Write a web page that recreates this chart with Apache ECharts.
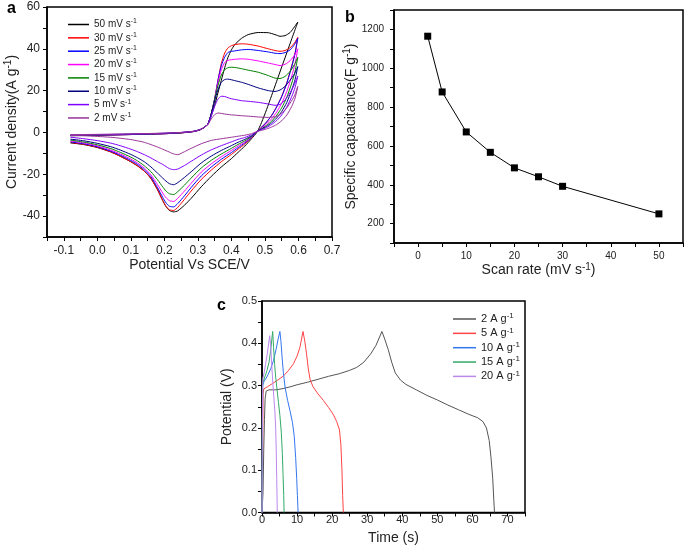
<!DOCTYPE html>
<html><head><meta charset="utf-8">
<script src="https://cdn.jsdelivr.net/npm/echarts@6/dist/echarts.min.js"></script>
<style>html,body{margin:0;padding:0;background:#fff}#c{width:685px;height:546px}</style>
</head><body><div id="c"></div><script>
// ---------- Panel a : CV curves ----------
const cvRates = ['50 mV s-1','30 mV s-1','25 mV s-1','20 mV s-1','15 mV s-1','10 mV s-1','5 mV s-1','2 mV s-1'];
const cvForwardX = [-0.08,0.0,0.1,0.2,0.25,0.29,0.31,0.32,0.33,0.34,0.35,0.36,0.37,0.38,0.39,0.40,0.41,0.43,0.45,0.48,0.51,0.53,0.545,0.56,0.575,0.588,0.598];
const cvReverseX = [0.598,0.59,0.58,0.565,0.55,0.535,0.52,0.505,0.49,0.477,0.46,0.44,0.42,0.40,0.37,0.34,0.31,0.28,0.26,0.24,0.228,0.215,0.205,0.195,0.18,0.16,0.14,0.12,0.10,0.07,0.04,0.0,-0.04,-0.08];
const cv50Fwd = [-1.6,-1.3,-1.0,-0.6,-0.2,0.5,1.5,2.6,4,8,13,19,25,31,36,39.5,42,45,46.8,47.8,47.7,46.8,46,46.3,47.8,50.5,52.8];
const cv30Fwd = [-1.5,-1.3,-1.0,-0.6,-0.2,0.5,1.5,2.6,4,9,16,25,33,38,40.5,41.5,42,42.4,42.2,41.3,40,39.2,38.8,39.2,40.5,42.8,45.5];
const cv25Fwd = [-1.5,-1.3,-1.0,-0.6,-0.2,0.5,1.5,2.6,4,9,16,25,32,36,38.3,38.8,39,39.5,39.7,39.2,38.5,37.9,37.7,38.2,39.5,42,45];
const cv20Fwd = [-1.4,-1.2,-0.9,-0.5,-0.1,0.6,1.6,2.6,4,9,16,24,30,33.5,34.5,34.8,35,35.2,35,34.2,33.2,32.5,32,32.6,34.3,37,40];
const cv15Fwd = [-1.4,-1.2,-0.9,-0.5,-0.1,0.6,1.6,2.6,4,9,16,22.5,27.5,30,31,31.2,31.1,30.5,29.8,28.8,27.2,26,25.8,26.8,29.2,32.5,36];
const cv10Fwd = [-1.3,-1.1,-0.8,-0.4,0,0.6,1.6,2.6,4,9,15,20.5,24,25.3,25.5,25.2,24.8,24,23,21.3,20,19.6,20.3,22,25,28,31.5];
const cv5Fwd  = [-1.2,-1.0,-0.8,-0.4,0,0.6,1.6,2.6,4,8,12.5,16,17.3,17.2,16.6,16.1,15.8,15.2,14.9,14.4,13.6,13,13.4,15.5,19,23,27];
const cv2Fwd  = [-1.1,-0.9,-0.7,-0.3,0,0.6,1.5,2.5,3.8,6.5,8.5,9.3,9.1,8.8,8.6,8.4,8.3,8,7.8,7.4,7.2,7.5,8.6,10.8,14,17.5,22];
const cv50Rev = [52.8,49.2,44.8,38,31.3,24.5,17.7,11,4.8,0.3,-3,-6.5,-9.5,-12.5,-16.5,-21,-26,-31.5,-34.8,-37.5,-38,-37.3,-35.5,-32.5,-27.5,-22,-18.5,-16,-14,-11.5,-9.3,-7.2,-5.8,-5.0];
const cv30Rev = [45.5,38.2,31.9,23.7,17.3,12.3,8.2,5.0,2.5,0.5,-2.6,-5.5,-8,-10.5,-14,-18,-22.5,-28,-32,-35.8,-37.3,-37,-35.3,-32.5,-27.5,-22,-18.5,-16,-14,-11.5,-9.3,-7.1,-5.7,-4.8];
const cv25Rev = [45,37.8,31.5,23.4,17.1,12.2,8.1,5.0,2.5,0.5,-2.4,-5,-7.3,-9.6,-12.8,-16.5,-20.8,-26.3,-30.3,-34,-35.6,-35.3,-33.7,-31,-26.5,-21.2,-17.8,-15.3,-13.4,-11,-8.9,-6.8,-5.4,-4.5];
const cv20Rev = [40,33,27,19.5,14,9.8,6.5,4.1,2.1,0.5,-2.1,-4.5,-6.5,-8.6,-11.6,-15,-19,-24.3,-28,-31.5,-33,-32.6,-31.2,-29,-25,-20.3,-17,-14.6,-12.7,-10.4,-8.4,-6.4,-5.0,-4.1];
const cv15Rev = [36,29.3,23.6,16.8,11.8,8.2,5.4,3.4,1.8,0.5,-1.9,-4,-5.7,-7.6,-10.3,-13.3,-17,-21.8,-25.2,-28.3,-29.7,-29.3,-28,-26,-22.7,-18.8,-15.9,-13.6,-11.8,-9.6,-7.7,-5.9,-4.6,-3.7];
const cv10Rev = [31.5,25.4,20.3,14.3,10,6.9,4.6,2.9,1.6,0.5,-1.6,-3.3,-4.7,-6.3,-8.6,-11.3,-14.6,-18.8,-21.5,-24,-25,-24.5,-23.3,-21.8,-19.5,-16.5,-14,-12.1,-10.5,-8.5,-6.8,-5.2,-4.0,-3.2];
const cv5Rev  = [27,21.6,17.2,12.1,8.4,5.7,3.8,2.4,1.3,0.5,-1.1,-2.4,-3.3,-4.5,-6.3,-8.3,-10.8,-13.8,-15.8,-17.5,-17.8,-17.3,-16.3,-15.3,-14,-12.2,-10.6,-9.2,-8,-6.4,-5.1,-3.9,-3.0,-2.3];
const cv2Rev  = [22,16.5,12.5,8.3,5.6,3.8,2.6,1.7,1.0,0.5,-0.6,-1.3,-1.8,-2.3,-3.0,-3.8,-5.4,-7.6,-9.2,-10.6,-10.3,-9.4,-8.7,-8.0,-7.0,-5.8,-4.7,-4.0,-3.4,-2.8,-2.3,-1.9,-1.6,-1.4];
const cvXLabels = [-0.1,0,0.1,0.2,0.3,0.4,0.5,0.6,0.7];
const cvXTicks = [-0.15,-0.1,-0.05,0,0.05,0.1,0.15,0.2,0.25,0.3,0.35,0.4,0.45,0.5,0.55,0.6,0.65,0.7];
const cvYLabels = [-40,-20,0,20,40,60];
const cvYTicks = [-50,-40,-30,-20,-10,0,10,20,30,40,50,60];

// ---------- Panel b : capacitance ----------
const scanRates = [2,5,10,15,20,25,30,50];
const capacitance = [1165,878,672,567,487,441,392,250];
const capXLabels = [0,10,20,30,40,50];
const capXTicks = [-5,0,5,10,15,20,25,30,35,40,45,50,55];
const capYLabels = [200,400,600,800,1000,1200];
const capYTicks = [100,200,300,400,500,600,700,800,900,1000,1100,1200,1300];

// ---------- Panel c : GCD ----------
const gcdNames = ['2 A g-1','5 A g-1','10 A g-1','15 A g-1','20 A g-1'];
const gcd2 = [[0,0],[0.3,0.05],[0.5,0.15],[0.7,0.22],[0.9,0.27],[1.2,0.287],[2,0.29],[4,0.29],[6,0.293],[8,0.297],[10,0.302],[13,0.308],[16,0.315],[19,0.322],[22,0.328],[25,0.336],[27,0.343],[29,0.355],[31,0.375],[32.5,0.395],[34.2,0.428],[35,0.41],[36,0.385],[37,0.355],[38,0.33],[39.5,0.313],[41,0.303],[44,0.29],[47,0.277],[50,0.266],[53,0.254],[56,0.243],[59,0.232],[61.5,0.224],[63,0.215],[64,0.2],[64.8,0.17],[65.3,0.13],[65.8,0.08],[66.1,0.03],[66.3,0]];
const gcd5 = [[0,0],[0.15,0.12],[0.3,0.28],[0.5,0.292],[1.5,0.297],[3,0.305],[4.5,0.313],[6,0.322],[7.5,0.335],[9,0.352],[10,0.37],[10.8,0.39],[11.7,0.428],[12.2,0.405],[12.7,0.375],[13.2,0.34],[13.7,0.315],[14.5,0.298],[16,0.28],[17.5,0.265],[19,0.248],[20.3,0.232],[21.3,0.215],[22.1,0.195],[22.5,0.16],[22.8,0.1],[23.0,0.04],[23.2,0]];
const gcd10 = [[0,0],[0.1,0.15],[0.2,0.3],[0.6,0.31],[1.5,0.322],[2.5,0.34],[3.3,0.36],[4,0.385],[4.6,0.41],[5.1,0.428],[5.4,0.405],[5.7,0.37],[6.1,0.33],[6.6,0.295],[7.3,0.265],[8,0.24],[8.7,0.212],[9.2,0.18],[9.6,0.13],[9.9,0.08],[10.1,0.04],[10.3,0]];
const gcd15 = [[0,0],[0.1,0.2],[0.2,0.305],[0.7,0.318],[1.4,0.335],[2,0.355],[2.5,0.385],[2.8,0.41],[3.05,0.428],[3.3,0.39],[3.6,0.35],[3.9,0.32],[4.3,0.29],[4.7,0.26],[5.1,0.23],[5.5,0.19],[5.8,0.14],[6.0,0.09],[6.2,0.04],[6.3,0]];
const gcd20 = [[0,0],[0.1,0.2],[0.2,0.315],[0.6,0.33],[1.0,0.35],[1.5,0.375],[1.9,0.4],[2.2,0.418],[2.5,0.39],[2.8,0.345],[3.1,0.305],[3.4,0.27],[3.7,0.235],[3.9,0.2],[4.05,0.15],[4.2,0.08],[4.3,0.03],[4.35,0]];
const gcdXLabels = [0,10,20,30,40,50,60,70];
const gcdXTicks = [0,5,10,15,20,25,30,35,40,45,50,55,60,65,70,75];
const gcdYLabels = [0,0.1,0.2,0.3,0.4,0.5];
const gcdYTicks = [0,0.05,0.1,0.15,0.2,0.25,0.3,0.35,0.4,0.45,0.5];

// ---------- build ----------
const FONT = 'Liberation Sans, Arial, sans-serif';
const cvColors = ['#000000','#ff0000','#0000ff','#ff00ff','#008000','#000080','#8000ff','#993399'];
const gcdColors = ['#555555','#ff4444','#3377ee','#33aa66','#bb88ee'];
const cvFwd = [cv50Fwd,cv30Fwd,cv25Fwd,cv20Fwd,cv15Fwd,cv10Fwd,cv5Fwd,cv2Fwd];
const cvRev = [cv50Rev,cv30Rev,cv25Rev,cv20Rev,cv15Rev,cv10Rev,cv5Rev,cv2Rev];
const gcdData = [gcd2,gcd5,gcd10,gcd15,gcd20];

function supText(s){
  return '{n|' + s.replace(/-1$/, '') + '}{s|-1}';
}
function rich(fs){
  return {
    n:{fontSize:fs, fontFamily:FONT, color:'#222', lineHeight:fs+3, verticalAlign:'middle'},
    s:{fontSize:Math.round(fs*0.7), fontFamily:FONT, color:'#222', lineHeight:Math.round(fs*0.55), verticalAlign:'top'}
  };
}
function axis(o){
  return {
    type:'value', gridIndex:o.grid, min:o.min, max:o.max,
    name:o.name, nameLocation:'middle', nameGap:o.gap,
    nameTextStyle:{rich:rich(14)},
    axisLine:{show:true, onZero:false, lineStyle:{color:'#000', width:1.5}},
    axisTick:{show:true, inside:false, length:4, customValues:o.ticks, lineStyle:{color:'#000', width:1}},
    axisLabel:{customValues:o.labels, fontSize:o.fs, fontFamily:FONT, color:'#222', margin:o.margin,
      formatter:o.fmt || (v=>String(v))},
    splitLine:{show:false}
  };
}
const series = [];
cvRates.forEach((name,i)=>{
  const data = [];
  cvForwardX.forEach((x,j)=>data.push([x, cvFwd[i][j]]));
  cvReverseX.forEach((x,j)=>data.push([x, cvRev[i][j]]));
  series.push({type:'line', name, xAxisIndex:0, yAxisIndex:0, data, showSymbol:false, smooth:0.2,
    lineStyle:{width:1, color:cvColors[i]}, itemStyle:{color:cvColors[i]}});
});
series.push({type:'line', name:'cap', xAxisIndex:1, yAxisIndex:1,
  data:scanRates.map((x,i)=>[x,capacitance[i]]), symbol:'rect', symbolSize:7,
  lineStyle:{width:1,color:'#000'}, itemStyle:{color:'#000'}});
gcdNames.forEach((name,i)=>{
  series.push({type:'line', name, xAxisIndex:2, yAxisIndex:2, data:gcdData[i], showSymbol:false,
    lineStyle:{width:1, color:gcdColors[i]}, itemStyle:{color:gcdColors[i]}});
});

const gridStyle = {show:true, borderColor:'#000', borderWidth:1.5, containLabel:false};
const option = {
  animation:false,
  backgroundColor:'#fff',
  grid:[
    Object.assign({left:47, top:7, width:285, height:230}, gridStyle),
    Object.assign({left:394, top:10, width:289, height:233}, gridStyle),
    Object.assign({left:262, top:301, width:263, height:212}, gridStyle)
  ],
  xAxis:[
    axis({grid:0, min:-0.15, max:0.7, ticks:cvXTicks, labels:cvXLabels, fs:12, gap:20, margin:8,
      name:'{n|Potential Vs SCE/V}', fmt:v=>v.toFixed(1)}),
    axis({grid:1, min:-5, max:55, ticks:capXTicks, labels:capXLabels, fs:10, gap:17, margin:8,
      name:'{n|Scan rate (mV s}{s|-1}{n|)}'}),
    axis({grid:2, min:0, max:75, ticks:gcdXTicks, labels:gcdXLabels, fs:11, gap:17, margin:2,
      name:'{n|Time (s)}'})
  ],
  yAxis:[
    axis({grid:0, min:-50, max:60, ticks:cvYTicks, labels:cvYLabels, fs:12, gap:25, margin:7,
      name:'{n|Current density(A g}{s|-1}{n|)}'}),
    axis({grid:1, min:100, max:1300, ticks:capYTicks, labels:capYLabels, fs:10, gap:31, margin:10,
      name:'{n|Specific capacitance(F g}{s|-1}{n|)}'}),
    axis({grid:2, min:0, max:0.5, ticks:gcdYTicks, labels:gcdYLabels, fs:11, gap:26, margin:5,
      name:'{n|Potential (V)}', fmt:v=>v.toFixed(1)})
  ],
  legend:[
    {data:cvRates, orient:'vertical', left:63, top:13, itemWidth:21, itemHeight:1.5, itemGap:1.85,
      icon:'rect', formatter:supText, textStyle:{rich:rich(10)}},
    {data:gcdNames, orient:'vertical', left:448, top:307, itemWidth:23, itemHeight:1.5, itemGap:1.85,
      icon:'rect', formatter:supText, textStyle:{rich:rich(11)}}
  ],
  graphic:[
    {type:'text', left:7, top:1, style:{text:'a', font:'bold 16px '+FONT, fill:'#000'}},
    {type:'text', left:345, top:10, style:{text:'b', font:'bold 16px '+FONT, fill:'#000'}},
    {type:'text', left:217, top:298, style:{text:'c', font:'bold 16px '+FONT, fill:'#000'}}
  ],
  series
};
const chart = echarts.init(document.getElementById('c'), null, {renderer:'canvas'});
chart.setOption(option);
</script></body></html>
